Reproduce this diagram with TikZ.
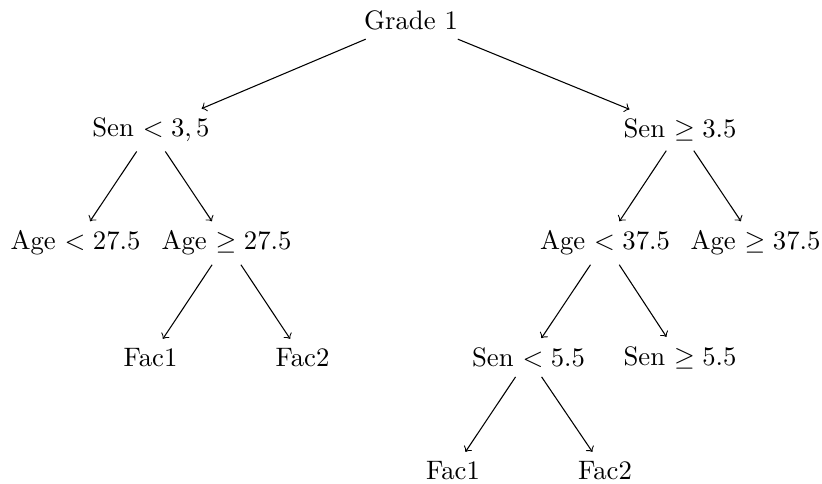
\documentclass[tikz,border=0pt]{standalone}
\begin{document}
\begin{tikzpicture}[x=0.3745pt,y=-0.3745pt,
  leaf/.style={anchor=center},
  edge/.style={->}]
\useasboundingbox (0,0) rectangle (822,483);
% level 0
\node[leaf] (root) at (411,20) {Grade 1};
% level 1
\node[leaf] (s1) at (151,130) {Sen $< 3,5$};
\node[leaf] (s2) at (680,130) {Sen $\geq 3.5$};
% level 2
\node[leaf] (a1) at (75.5,243) {Age $< 27.5$};
\node[leaf] (a2) at (226.5,243) {Age $\geq 27.5$};
\node[leaf] (a3) at (605,243) {Age $< 37.5$};
\node[leaf] (a4) at (755.5,243) {Age $\geq 37.5$};
% level 3
\node[leaf] (f1) at (150.5,357.5) {Fac1};
\node[leaf] (f2) at (302.5,357.5) {Fac2};
\node[leaf] (s3) at (528.5,357.5) {Sen $< 5.5$};
\node[leaf] (s4) at (680,357.5) {Sen $\geq 5.5$};
% level 4
\node[leaf] (f3) at (453,470.5) {Fac1};
\node[leaf] (f4) at (605,470.5) {Fac2};
% edges
\draw[edge] (root) -- (s1);
\draw[edge] (root) -- (s2);
\draw[edge] (s1) -- (a1);
\draw[edge] (s1) -- (a2);
\draw[edge] (s2) -- (a3);
\draw[edge] (s2) -- (a4);
\draw[edge] (a2) -- (f1);
\draw[edge] (a2) -- (f2);
\draw[edge] (a3) -- (s3);
\draw[edge] (a3) -- (s4);
\draw[edge] (s3) -- (f3);
\draw[edge] (s3) -- (f4);
\end{tikzpicture}
\end{document}
